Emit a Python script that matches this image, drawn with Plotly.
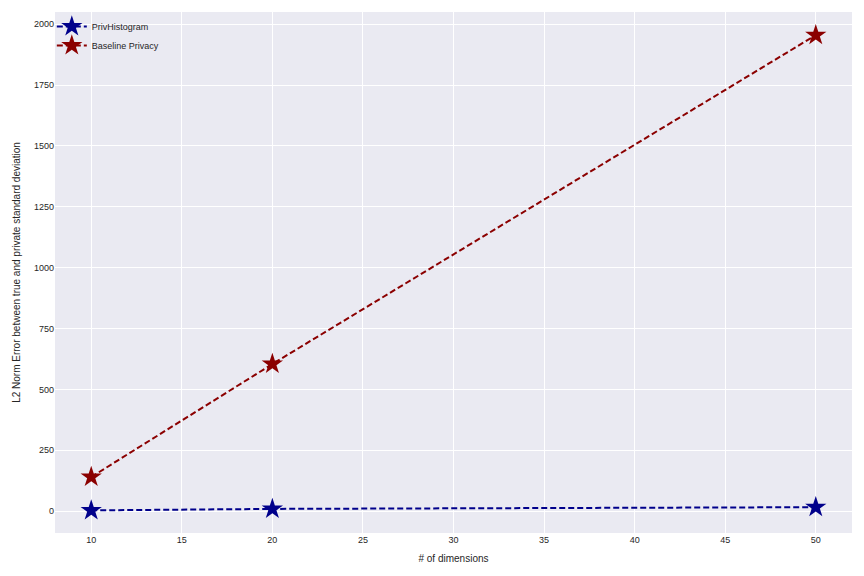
import plotly.graph_objects as go

dims = [10, 20, 50]
priv_hist = [3, 9, 16]
baseline = [140, 604, 1955]
x_ticks = [10, 15, 20, 25, 30, 35, 40, 45, 50]
y_ticks = [0, 250, 500, 750, 1000, 1250, 1500, 1750, 2000]

fig = go.Figure()
fig.add_trace(go.Scatter(x=dims, y=priv_hist, name="PrivHistogram", mode="lines+markers",
                         line=dict(color="#00008b", dash="6px,3px", width=2),
                         marker=dict(symbol="star", size=16, color="#00008b")))
fig.add_trace(go.Scatter(x=dims, y=baseline, name="Baseline Privacy", mode="lines+markers",
                         line=dict(color="#8b0000", dash="6px,3px", width=2),
                         marker=dict(symbol="star", size=16, color="#8b0000")))

fig.update_layout(
    width=856, height=568,
    paper_bgcolor="white", plot_bgcolor="#EAEAF2",
    margin=dict(l=47, r=12, t=4, b=43, pad=0),
    font=dict(family="Liberation Sans, Arial, sans-serif", size=9, color="#262626"),
    legend=dict(x=-0.004, y=1.0, xanchor="left", yanchor="top", bgcolor="rgba(0,0,0,0)",
                font=dict(size=9), tracegroupgap=0, itemwidth=30),
    xaxis=dict(range=[8, 52], tickvals=x_ticks, gridcolor="white", gridwidth=1, zeroline=False,
               showline=False, ticks="", automargin=False,
               title=dict(text="# of dimensions", font=dict(size=10), standoff=10)),
    yaxis=dict(range=[-90, 2050], tickvals=y_ticks, gridcolor="white", gridwidth=1, zeroline=False,
               showline=False, ticks="", automargin=False,
               title=dict(text="L2 Norm Error between true and private standard deviation", font=dict(size=10), standoff=11)),
)
fig.write_html("out.html")
